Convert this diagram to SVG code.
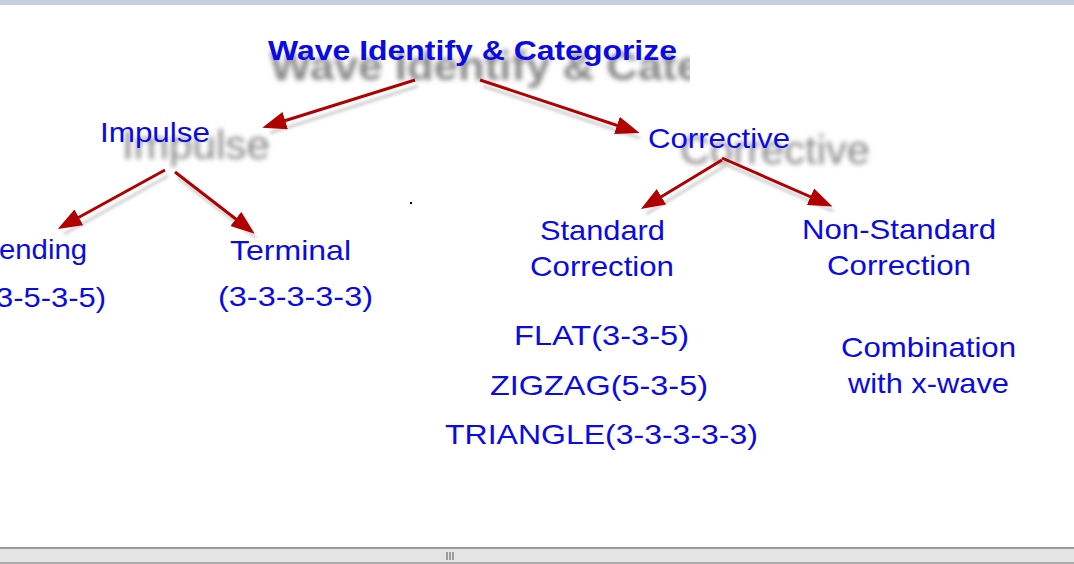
<svg xmlns="http://www.w3.org/2000/svg" width="1074" height="564" viewBox="0 0 1074 564">
<defs>
<style>
.t{font-family:"Liberation Sans",Arial,sans-serif;font-size:28px;fill:#0a0ae6}
.s{font-family:"Liberation Sans",Arial,sans-serif;fill:#888;filter:url(#bl)}
.a{stroke:#b00000;stroke-width:3;fill:none;marker-end:url(#ah)}
</style>
<filter id="bl" x="-10%" y="-30%" width="120%" height="160%"><feGaussianBlur stdDeviation="2.5"/></filter>
<filter id="sh" x="-10%" y="-50%" width="120%" height="200%"><feGaussianBlur stdDeviation="1.5"/></filter>
<marker id="ah" markerWidth="8" markerHeight="6" refX="6" refY="3" orient="auto" markerUnits="strokeWidth"><path d="M0,0 L8,3 L0,6 z" fill="#b00000"/></marker>
<clipPath id="cl"><rect x="0" y="0" width="690" height="120"/></clipPath>
</defs>
<rect width="1074" height="564" fill="#fff"/>
<rect width="1074" height="5" fill="#c4cedc"/>
<g id="shadows">
<text class="s" x="270" y="80" font-size="40" font-weight="bold" clip-path="url(#cl)" textLength="560" lengthAdjust="spacingAndGlyphs">Wave Identify &amp; Categorize</text>
<text class="s" x="122" y="159" font-size="40" textLength="148" lengthAdjust="spacingAndGlyphs">Impulse</text>
<text class="s" x="680" y="164" font-size="40" textLength="190" lengthAdjust="spacingAndGlyphs">Corrective</text>
</g>
<g id="connectors">
<g stroke="#bbb" stroke-width="3" fill="none" filter="url(#sh)" opacity="0.7">
<path d="M418,86 L270,133 M483,86 L640,138 M168,176 L64,234 M178,178 L256,238 M725,166 L646,214 M725,164 L833,211"/>
</g>
<path class="a" d="M415,80 L268,126"/>
<path class="a" d="M480,80 L634,131"/>
<path class="a" d="M165,170 L63,226"/>
<path class="a" d="M175,172 L250,230"/>
<path class="a" d="M722,160 L646,206"/>
<path class="a" d="M722,158 L827,204"/>
</g>
<g id="title"><text class="t" x="268" y="60" font-size="32" font-weight="bold" textLength="409" lengthAdjust="spacingAndGlyphs">Wave Identify &amp; Categorize</text></g>
<g id="impulse"><text class="t" x="100" y="142" textLength="110" lengthAdjust="spacingAndGlyphs">Impulse</text></g>
<g id="corrective"><text class="t" x="648" y="148" textLength="142" lengthAdjust="spacingAndGlyphs">Corrective</text></g>
<g id="trending"><text class="t" x="-1" y="259" textLength="88" lengthAdjust="spacingAndGlyphs">ending</text><text class="t" x="-4" y="307" textLength="110" lengthAdjust="spacingAndGlyphs">3-5-3-5)</text></g>
<g id="terminal"><text class="t" x="230" y="260" textLength="121" lengthAdjust="spacingAndGlyphs">Terminal</text><text class="t" x="218" y="306" textLength="155" lengthAdjust="spacingAndGlyphs">(3-3-3-3-3)</text></g>
<g id="standard"><text class="t" x="540" y="240" textLength="125" lengthAdjust="spacingAndGlyphs">Standard</text><text class="t" x="530" y="276" textLength="144" lengthAdjust="spacingAndGlyphs">Correction</text></g>
<g id="nonstandard"><text class="t" x="802" y="239" textLength="194" lengthAdjust="spacingAndGlyphs">Non-Standard</text><text class="t" x="827" y="275" textLength="144" lengthAdjust="spacingAndGlyphs">Correction</text></g>
<g id="standard-list">
<text class="t" x="514" y="345" textLength="175" lengthAdjust="spacingAndGlyphs">FLAT(3-3-5)</text>
<text class="t" x="490" y="395" textLength="218" lengthAdjust="spacingAndGlyphs">ZIGZAG(5-3-5)</text>
<text class="t" x="445" y="444" textLength="313" lengthAdjust="spacingAndGlyphs">TRIANGLE(3-3-3-3-3)</text>
</g>
<g id="combination"><text class="t" x="841" y="357" textLength="175" lengthAdjust="spacingAndGlyphs">Combination</text><text class="t" x="848" y="393" textLength="161" lengthAdjust="spacingAndGlyphs">with x-wave</text></g>
<rect x="410" y="202" width="2" height="2" fill="#000"/>
<rect x="0" y="547" width="1074" height="17" fill="#e4e4e4"/>
<rect x="0" y="547" width="1074" height="2" fill="#999"/>
<rect x="0" y="562" width="1074" height="2" fill="#aaa"/>
<path d="M447,552 v8 M450,552 v8 M453,552 v8" stroke="#555" stroke-width="1"/>
</svg>
